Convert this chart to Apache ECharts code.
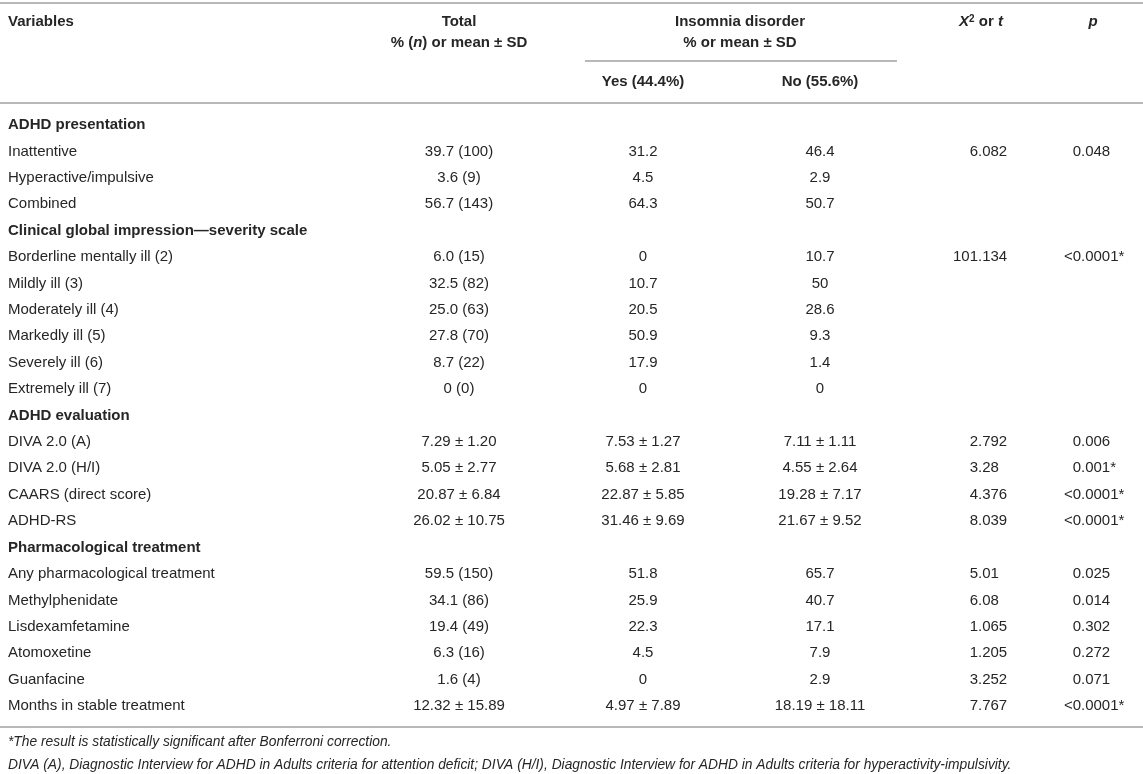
<!DOCTYPE html>
<html>
<head>
<meta charset="utf-8">
<script src="https://cdn.jsdelivr.net/npm/echarts@6/dist/echarts.min.js"></script>
<style>
html,body{margin:0;padding:0;background:#fff;}
#chart{width:1143px;height:774px;}
</style>
</head>
<body>
<div id="chart"></div>
<script>
// ---------------- data ----------------
const variables = [
  "ADHD presentation", "Inattentive", "Hyperactive/impulsive", "Combined",
  "Clinical global impression\u2014severity scale", "Borderline mentally ill (2)", "Mildly ill (3)",
  "Moderately ill (4)", "Markedly ill (5)", "Severely ill (6)", "Extremely ill (7)",
  "ADHD evaluation", "DIVA 2.0 (A)", "DIVA 2.0 (H/I)", "CAARS (direct score)", "ADHD-RS",
  "Pharmacological treatment", "Any pharmacological treatment", "Methylphenidate",
  "Lisdexamfetamine", "Atomoxetine", "Guanfacine", "Months in stable treatment"
];
const sectionRows = [0, 4, 11, 16];
const totalCol = ["", "39.7 (100)", "3.6 (9)", "56.7 (143)", "", "6.0 (15)", "32.5 (82)", "25.0 (63)",
  "27.8 (70)", "8.7 (22)", "0 (0)", "", "7.29 \u00b1 1.20", "5.05 \u00b1 2.77", "20.87 \u00b1 6.84",
  "26.02 \u00b1 10.75", "", "59.5 (150)", "34.1 (86)", "19.4 (49)", "6.3 (16)", "1.6 (4)", "12.32 \u00b1 15.89"];
const yesCol = ["", "31.2", "4.5", "64.3", "", "0", "10.7", "20.5", "50.9", "17.9", "0", "",
  "7.53 \u00b1 1.27", "5.68 \u00b1 2.81", "22.87 \u00b1 5.85", "31.46 \u00b1 9.69", "",
  "51.8", "25.9", "22.3", "4.5", "0", "4.97 \u00b1 7.89"];
const noCol = ["", "46.4", "2.9", "50.7", "", "10.7", "50", "28.6", "9.3", "1.4", "0", "",
  "7.11 \u00b1 1.11", "4.55 \u00b1 2.64", "19.28 \u00b1 7.17", "21.67 \u00b1 9.52", "",
  "65.7", "40.7", "17.1", "7.9", "2.9", "18.19 \u00b1 18.11"];
const statCol = ["", "6.082", "", "", "", "101.134", "", "", "", "", "", "",
  "2.792", "3.28", "4.376", "8.039", "", "5.01", "6.08", "1.065", "1.205", "3.252", "7.767"];
const pCol = ["", "0.048", "", "", "", "<0.0001*", "", "", "", "", "", "",
  "0.006", "0.001*", "<0.0001*", "<0.0001*", "", "0.025", "0.014", "0.302", "0.272", "0.071", "<0.0001*"];

const headVariables = "Variables";
const headTotal = ["Total", "% (", "n", ") or mean \u00b1 SD"];
const headInsomnia = ["Insomnia disorder", "% or mean \u00b1 SD"];
const headYes = "Yes (44.4%)";
const headNo = "No (55.6%)";
const headStat = ["X", "2", " or ", "t"];
const headP = "p";
const footnotes = [
  "*The result is statistically significant after Bonferroni correction.",
  "DIVA (A), Diagnostic Interview for ADHD in Adults criteria for attention deficit; DIVA (H/I), Diagnostic Interview for ADHD in Adults criteria for hyperactivity-impulsivity."
];

// ---------------- layout / style ----------------
const FONT = '"Liberation Sans", Arial, Helvetica, sans-serif';
const FS = 15;
const TXT = '#262626';
const LINE = '#b8b8b8';
const X_VAR = 8, X_TOTAL = 459, X_YES = 643, X_NO = 820, X_STAT_DEC = 978, X_P_DEC = 1081;
const X_INSOMNIA = 740, X_STAT_HEAD = 981, X_P_HEAD = 1093;

const mctx = document.createElement('canvas').getContext('2d');
function measure(s, weight) {
  mctx.font = (weight || 'normal') + ' ' + FS + 'px ' + FONT;
  return mctx.measureText(s).width;
}

function textSeries(name, texts, x, mode) {
  const rows = [];
  texts.forEach((t, i) => { if (t) rows.push(i); });
  return {
    type: 'custom',
    name: name,
    coordinateSystem: 'cartesian2d',
    silent: true,
    data: rows.map(i => [x, i]),
    renderItem: function (params, api) {
      const i = rows[params.dataIndex];
      const t = texts[i];
      const pt = api.coord([api.value(0), api.value(1)]);
      let px = pt[0];
      let align = 'center';
      let weight = 'normal';
      if (mode === 'left') {
        align = 'left';
        if (sectionRows.indexOf(i) >= 0) weight = 'bold';
      } else if (mode === 'decimal') {
        align = 'left';
        px = pt[0] - measure(t.split('.')[0], weight);
      }
      return {
        type: 'text',
        x: px,
        y: pt[1],
        style: {
          text: t,
          textAlign: align,
          textVerticalAlign: 'middle',
          fontFamily: FONT,
          fontSize: FS,
          fontWeight: weight,
          fill: TXT
        }
      };
    }
  };
}

function hline(x1, x2, y) {
  return { type: 'line', shape: { x1: x1, y1: y, x2: x2, y2: y }, style: { stroke: LINE, lineWidth: 2 }, silent: true };
}
function htext(x, y, text, align, rich, weight, style) {
  const s = {
    text: text, textAlign: align, textVerticalAlign: 'middle',
    fontFamily: FONT, fontSize: FS, fontWeight: weight || 'bold', fill: TXT
  };
  if (rich) s.rich = rich;
  if (style) s.fontStyle = style;
  return { type: 'text', x: x, y: y, style: s, silent: true };
}

const richHead = {
  b: { fontFamily: FONT, fontSize: FS, fontWeight: 'bold', fill: TXT },
  bi: { fontFamily: FONT, fontSize: FS, fontWeight: 'bold', fontStyle: 'italic', fill: TXT },
  sup: { fontFamily: FONT, fontSize: 10, fontWeight: 'bold', fill: TXT, verticalAlign: 'top', padding: [0, 0, 6, 0] }
};

const chart = echarts.init(document.getElementById('chart'), null, { renderer: 'canvas' });
const option = {
  animation: false,
  backgroundColor: '#ffffff',
  grid: { left: 0, right: 0, top: 111.8, bottom: 54.8, containLabel: false },
  xAxis: { type: 'value', min: 0, max: 1143, show: false },
  yAxis: { type: 'category', data: variables.map((v, i) => i), inverse: true, show: false, boundaryGap: true },
  graphic: [
    hline(0, 1143, 3),
    hline(585, 897, 61),
    hline(0, 1143, 103),
    hline(0, 1143, 727),
    htext(X_VAR, 22, headVariables, 'left'),
    htext(X_TOTAL, 22, headTotal[0], 'center'),
    htext(X_TOTAL, 43, '{b|' + headTotal[1] + '}{bi|' + headTotal[2] + '}{b|' + headTotal[3] + '}', 'center', richHead),
    htext(X_INSOMNIA, 22, headInsomnia[0], 'center'),
    htext(X_INSOMNIA, 43, headInsomnia[1], 'center'),
    htext(X_YES, 82, headYes, 'center'),
    htext(X_NO, 82, headNo, 'center'),
    htext(X_STAT_HEAD, 22, '{bi|' + headStat[0] + '}{sup|' + headStat[1] + '}{b|' + headStat[2] + '}{bi|' + headStat[3] + '}', 'center', richHead),
    htext(X_P_HEAD, 22, headP, 'center', null, 'bold', 'italic'),
    {
      type: 'text', x: X_VAR, y: 742, silent: true,
      style: { text: footnotes[0], textAlign: 'left', textVerticalAlign: 'middle', fontFamily: FONT, fontSize: 13.8, fontStyle: 'italic', fill: TXT }
    },
    {
      type: 'text', x: X_VAR, y: 765, silent: true,
      style: { text: footnotes[1], textAlign: 'left', textVerticalAlign: 'middle', fontFamily: FONT, fontSize: 13.8, fontStyle: 'italic', fill: TXT }
    }
  ],
  series: [
    textSeries('Variables', variables, X_VAR, 'left'),
    textSeries('Total', totalCol, X_TOTAL, 'center'),
    textSeries('Yes', yesCol, X_YES, 'center'),
    textSeries('No', noCol, X_NO, 'center'),
    textSeries('Stat', statCol, X_STAT_DEC, 'decimal'),
    textSeries('p', pCol, X_P_DEC, 'decimal')
  ]
};
chart.setOption(option);
</script>
</body>
</html>
